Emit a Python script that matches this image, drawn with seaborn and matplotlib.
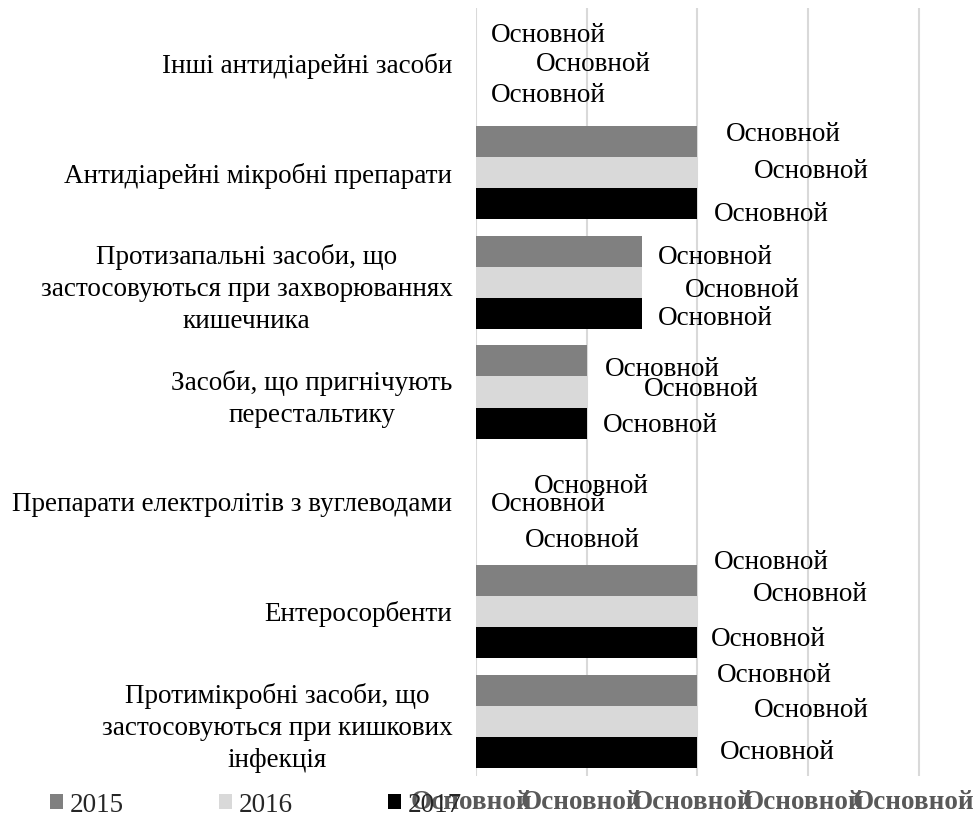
import matplotlib
matplotlib.use("Agg")
import matplotlib.pyplot as plt
import matplotlib.transforms as mtransforms
import seaborn as sns
import pandas as pd
from matplotlib.patches import Patch

# ---------------- data ----------------
categories = [
    "Інші антидіарейні засоби",
    "Антидіарейні мікробні препарати",
    "Протизапальні засоби, що\nзастосовуються при захворюваннях\nкишечника",
    "Засоби, що пригнічують\nперестальтику",
    "Препарати електролітів з вуглеводами",
    "Ентеросорбенти",
    "Протимікробні засоби, що\nзастосовуються при кишкових\nінфекція",
]
years = ["2015", "2016", "2017"]
values_2015 = [0, 2, 1.5, 1, 0, 2, 2]
values_2016 = [0, 2, 1.5, 1, 0, 2, 2]
values_2017 = [0, 2, 1.5, 1, 0, 2, 2]
data_label_text = "Основной"
x_ticks = [0, 1, 2, 3, 4]
x_tick_labels = ["Основной", "Основной", "Основной", "Основной", "Основной"]

colors = {"2015": "#808080", "2016": "#d9d9d9", "2017": "#000000"}

# label placement offsets (pixels) relative to bar end / bar centre, per series
label_dx = {
    "2015": [15, 28, 16, 18, 58, 16, 19],
    "2016": [60, 56, 43, 57, 15, 55, 56],
    "2017": [15, 16, 16, 16, 49, 13, 22],
}
label_dy = {
    "2015": [1, -10, 3, 6, 13, -21, -18],
    "2016": [-1, -4, 5, -6, 0, -20, -14],
    "2017": [-1, 8, 2, -1, 5, -6, -3],
}
DY_SHIFT = 3

df = pd.DataFrame({
    "category": categories * 3,
    "year": [years[0]] * 7 + [years[1]] * 7 + [years[2]] * 7,
    "value": values_2015 + values_2016 + values_2017,
})

# ---------------- style ----------------
sns.set_theme(style="white")
plt.rcParams["font.family"] = ["Liberation Serif", "DejaVu Serif"]
FS = 19.5

W, H, DPI = 979, 818, 100
fig = plt.figure(figsize=(W / DPI, H / DPI), dpi=DPI)
ax = fig.add_axes([476 / W, 1 - 776 / H, (952 - 476) / W, (776 - 8) / H])

sns.barplot(data=df, y="category", x="value", hue="year", order=categories,
            hue_order=years, palette=colors, orient="h", width=0.85,
            saturation=1, linewidth=0, legend=False, ax=ax)

ax.set_xlim(0, 4.3)
ax.set_xticks(x_ticks)
ax.set_xticklabels(x_tick_labels, fontsize=FS, fontweight="bold", color="#595959")
ax.tick_params(axis="x", length=0, pad=10)
ax.tick_params(axis="y", length=0, pad=17, labelsize=FS, labelcolor="black")
shift = mtransforms.ScaledTranslation(-5 / DPI, 0, fig.dpi_scale_trans)
for lbl in ax.get_xticklabels():
    lbl.set_transform(lbl.get_transform() + shift)
for lbl in ax.get_yticklabels():
    lbl.set_multialignment("center")
    lbl.set_linespacing(1.38)
ax.set_xlabel("")
ax.set_ylabel("")
for s in ax.spines.values():
    s.set_visible(False)
ax.xaxis.grid(True, color="#d9d9d9", linewidth=1.5)
ax.yaxis.grid(False)
ax.set_axisbelow(True)

# data labels
for h, yr in enumerate(years):
    cont = ax.containers[h]
    for i, bar in enumerate(cont):
        xe = bar.get_x() + bar.get_width()
        yc = bar.get_y() + bar.get_height() / 2
        ax.annotate(data_label_text, xy=(xe, yc),
                    xytext=(label_dx[yr][i], -(label_dy[yr][i] + DY_SHIFT)),
                    textcoords="offset pixels", ha="left", va="center",
                    fontsize=FS, color="black", annotation_clip=False)

# legend
handles = [Patch(facecolor=colors[y], edgecolor="none", label=y) for y in years]
fig.legend(handles=handles, loc="center left", bbox_to_anchor=(50 / W, 1 - 805 / H),
           ncol=3, frameon=False, fontsize=FS, handlelength=0.48, handleheight=0.48,
           handletextpad=0.26, columnspacing=3.5, borderpad=0, borderaxespad=0)

fig.savefig("out.png", dpi=DPI)
